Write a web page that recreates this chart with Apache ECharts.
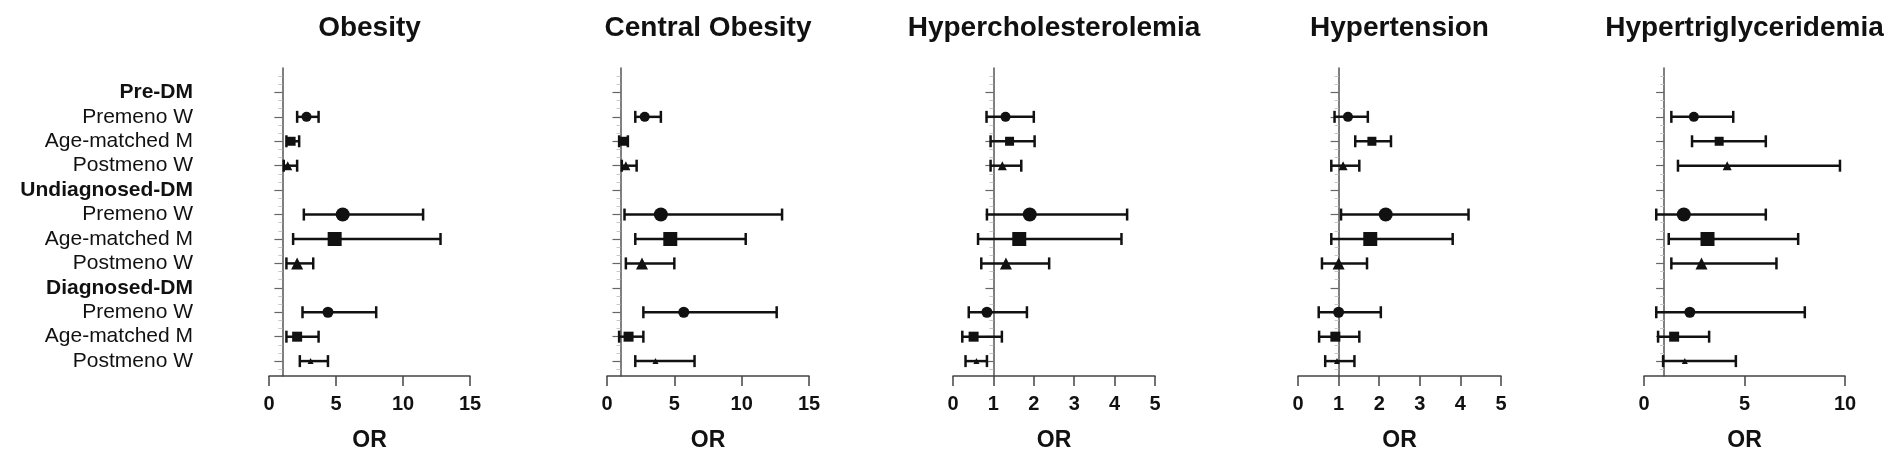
<!DOCTYPE html>
<html>
<head>
<meta charset="utf-8">
<script src="https://cdn.jsdelivr.net/npm/echarts@6.0.0/dist/echarts.min.js"></script>
<style>
  html, body { margin: 0; padding: 0; background: #fff; }
  #chart { width: 1896px; height: 458px; }
</style>
</head>
<body>
<div id="chart"></div>
<script>
// ---- Data ----
const groups = ['Pre-DM', 'Undiagnosed-DM', 'Diagnosed-DM'];
const subgroups = ['Premeno W', 'Age-matched M', 'Postmeno W'];
const panelTitles = ['Obesity', 'Central Obesity', 'Hypercholesterolemia', 'Hypertension', 'Hypertriglyceridemia'];
const xMax = [15, 15, 5, 5, 10];
const xInterval = [5, 5, 1, 1, 5];
const axisName = 'OR';
const refValue = 1;

// [OR, lower CI, upper CI] for each subgroup row, groups in order
const obesity = [[2.8,2.1,3.7],[1.65,1.3,2.25],[1.4,1.1,2.1],[5.5,2.6,11.5],[4.9,1.8,12.8],[2.1,1.3,3.3],[4.4,2.5,8.0],[2.1,1.3,3.7],[3.1,2.3,4.4]];
const centralObesity = [[2.8,2.1,4.0],[1.2,0.9,1.55],[1.4,1.1,2.2],[4.0,1.3,13.0],[4.7,2.1,10.3],[2.6,1.4,5.0],[5.7,2.7,12.6],[1.6,0.9,2.7],[3.6,2.1,6.5]];
const hypercholesterolemia = [[1.3,0.83,2.0],[1.4,0.93,2.02],[1.22,0.93,1.69],[1.9,0.84,4.31],[1.64,0.62,4.17],[1.31,0.7,2.38],[0.84,0.39,1.83],[0.51,0.23,1.21],[0.58,0.31,0.84]];
const hypertension = [[1.23,0.9,1.72],[1.82,1.41,2.29],[1.11,0.82,1.51],[2.16,1.06,4.2],[1.78,0.82,3.81],[1.0,0.59,1.7],[1.0,0.51,2.04],[0.92,0.52,1.51],[0.96,0.67,1.39]];
const hypertriglyceridemia = [[2.48,1.36,4.44],[3.74,2.39,6.06],[4.14,1.69,9.75],[1.98,0.61,6.06],[3.16,1.23,7.67],[2.86,1.36,6.59],[2.28,0.61,8.0],[1.5,0.7,3.24],[2.03,0.95,4.57]];
const panelData = [obesity, centralObesity, hypercholesterolemia, hypertension, hypertriglyceridemia];

// ---- Styles / layout ----
const gridLeft = [269, 607, 953, 1298, 1644];
const gridWidth = [201, 202, 202, 203, 201];
const gridTop = 68, gridHeight = 308;
const rowSpan = 12.61;
const subSymbols = ['circle', 'rect', 'triangle'];
const symbolSizes = [[10, 9, 9], [14, 14, 12], [11, 10, 6]];
const FONT = '"Liberation Sans", Arial, Helvetica, sans-serif';

// Build row list
const rowLabels = [];
const rowOfItem = [];
groups.forEach((g, gi) => {
  rowLabels.push(g);
  subgroups.forEach((s, si) => {
    rowLabels.push(s);
    rowOfItem.push({ row: rowLabels.length, gi: gi, si: si });
  });
});
const rowValues = rowLabels.map((_, i) => i + 1);

const grids = [], xAxes = [], xAxesTop = [], yAxes = [], series = [];
panelTitles.forEach((title, p) => {
  grids.push({ left: gridLeft[p], width: gridWidth[p], top: gridTop, height: gridHeight, containLabel: false });
  xAxes.push({
    type: 'value', gridIndex: p, min: 0, max: xMax[p], interval: xInterval[p],
    position: 'bottom',
    axisLine: { show: true, onZero: false, lineStyle: { color: '#444', width: 1.5 } },
    axisTick: { show: true, length: 10, lineStyle: { color: '#444', width: 1.5 } },
    splitLine: { show: false },
    axisLabel: { margin: 18, fontFamily: FONT, fontSize: 20, fontWeight: 'bold', color: '#111' },
    name: axisName, nameLocation: 'middle', nameGap: 53,
    nameTextStyle: { fontFamily: FONT, fontSize: 23, fontWeight: 'bold', color: '#111' }
  });
  // shifted helper axis (value - ref) so that the y axis crosses at OR = 1; carries the panel title
  xAxesTop.push({
    type: 'value', gridIndex: p, min: 0 - refValue, max: xMax[p] - refValue,
    position: 'top',
    axisLine: { show: false, onZero: false }, axisTick: { show: false },
    axisLabel: { show: false }, splitLine: { show: false },
    name: title, nameLocation: 'middle', nameGap: 26,
    nameTextStyle: { fontFamily: FONT, fontSize: 28, fontWeight: 'bold', color: '#111' }
  });
  yAxes.push({
    type: 'value', gridIndex: p, inverse: true, min: 0, max: rowSpan, interval: 1,
    axisLine: { show: true, onZero: true, onZeroAxisIndex: panelTitles.length + p, lineStyle: { color: '#555', width: 1.5 } },
    axisTick: { show: true, length: 8, customValues: rowValues, lineStyle: { color: '#666', width: 1.2 } },
    minorTick: { show: true, splitNumber: 3, length: 4, lineStyle: { color: '#c8c8c8', width: 1 } },
    splitLine: { show: false },
    axisLabel: {
      show: p === 0, margin: 76, customValues: rowValues,
      fontFamily: FONT, fontSize: 21, color: '#111',
      formatter: function (v) {
        const lbl = rowLabels[Math.round(v) - 1] || '';
        return groups.indexOf(lbl) >= 0 ? '{b|' + lbl + '}' : lbl;
      },
      rich: { b: { fontFamily: FONT, fontSize: 21, fontWeight: 'bold', color: '#111' } }
    }
  });

  const rows = panelData[p];
  series.push({
    type: 'custom', xAxisIndex: p, yAxisIndex: p,
    data: rows.map((d, k) => [d[1], d[2], rowOfItem[k].row]),
    encode: { x: [0, 1], y: 2 },
    renderItem: function (params, api) {
      const a = api.coord([api.value(0), api.value(2)]);
      const b = api.coord([api.value(1), api.value(2)]);
      const h = 6;
      const st = { stroke: '#111', lineWidth: 2.5 };
      return {
        type: 'group',
        children: [
          { type: 'line', shape: { x1: a[0], y1: a[1], x2: b[0], y2: b[1] }, style: st },
          { type: 'line', shape: { x1: a[0], y1: a[1] - h, x2: a[0], y2: a[1] + h }, style: st },
          { type: 'line', shape: { x1: b[0], y1: b[1] - h, x2: b[0], y2: b[1] + h }, style: st }
        ]
      };
    },
    silent: true, z: 2
  });
  series.push({
    type: 'scatter', xAxisIndex: p, yAxisIndex: p,
    data: rows.map((d, k) => ({
      value: [d[0], rowOfItem[k].row],
      symbol: subSymbols[rowOfItem[k].si],
      symbolSize: symbolSizes[rowOfItem[k].gi][rowOfItem[k].si]
    })),
    itemStyle: { color: '#111', opacity: 1 },
    silent: true, z: 3
  });
});

const chart = echarts.init(document.getElementById('chart'), null, { renderer: 'canvas' });
chart.setOption({
  backgroundColor: '#fff',
  animation: false,
  grid: grids,
  xAxis: xAxes.concat(xAxesTop),
  yAxis: yAxes,
  series: series
});
</script>
</body>
</html>
